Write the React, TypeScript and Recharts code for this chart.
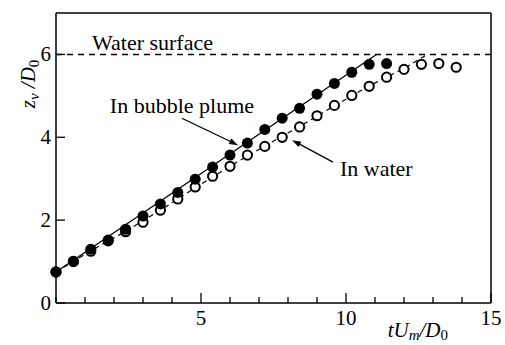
import { ComposedChart, XAxis, YAxis, Scatter, ReferenceLine } from "recharts"

const FONT = "Liberation Serif, Times New Roman, DejaVu Serif, serif"

// tUm/D0 of each sample (both series sampled on the same grid)
const plumeT = [0, 0.6, 1.2, 1.8, 2.4, 3.0, 3.6, 4.2, 4.8, 5.4, 6.0, 6.6, 7.2, 7.8, 8.4, 9.0, 9.6, 10.2, 10.8, 11.4]
const plumeZ = [0.75, 1.01, 1.3, 1.52, 1.78, 2.1, 2.39, 2.67, 2.99, 3.28, 3.57, 3.86, 4.19, 4.46, 4.7, 5.04, 5.3, 5.57, 5.76, 5.78]

const waterT = [0, 0.6, 1.2, 1.8, 2.4, 3.0, 3.6, 4.2, 4.8, 5.4, 6.0, 6.6, 7.2, 7.8, 8.4, 9.0, 9.6, 10.2, 10.8, 11.4, 12.0, 12.6, 13.2, 13.8]
const waterZ = [0.75, 1.0, 1.25, 1.5, 1.72, 1.95, 2.24, 2.51, 2.8, 3.06, 3.3, 3.57, 3.78, 4.0, 4.25, 4.52, 4.77, 5.01, 5.23, 5.45, 5.64, 5.76, 5.78, 5.69]

// fitted curves
const plumeFitT = [0, 11.05]
const plumeFitZ = [0.75, 6.0]
const waterFitT = [0, 1.2, 2.4, 3.6, 4.8, 6.0, 7.2, 8.4, 9.6, 10.8, 12.0, 12.8]
const waterFitZ = [0.75, 1.26, 1.73, 2.24, 2.78, 3.3, 3.79, 4.26, 4.76, 5.24, 5.66, 6.0]

const surfaceZ = 6
const xTicks = [0, 1, 2, 3, 4, 5, 6, 7, 8, 9, 10, 11, 12, 13, 14, 15]
const xLabelled = [5, 10, 15]
const yTicks = [0, 2, 4, 6]

// annotation arrows: [tail, head] in data units
const plumeArrow = [{ x: 4.34, y: 4.46 }, { x: 6.28, y: 3.81 }]
const waterArrow = [{ x: 9.55, y: 3.4 }, { x: 8.14, y: 3.93 }]

const zip = (xs: number[], ys: number[]) => xs.map((x, i) => ({ x, y: ys[i] }))

const plume = zip(plumeT, plumeZ)
const water = zip(waterT, waterZ)
const plumeFit = zip(plumeFitT, plumeFitZ)
const waterFit = zip(waterFitT, waterFitZ)

const txt = { fontFamily: FONT, fill: "#000" }

function XTick(props: any) {
  const { x, y, payload } = props
  const major = xLabelled.includes(payload.value)
  return (
    <g>
      <line x1={x} y1={y} x2={x} y2={y - (major ? 10 : 6)} stroke="#000" strokeWidth={1.3} />
      {major && (
        <text x={x} y={y + 22} textAnchor="middle" fontSize={21} style={txt}>
          {payload.value}
        </text>
      )}
    </g>
  )
}

function YTick(props: any) {
  const { x, y, payload } = props
  return (
    <g>
      <line x1={x} y1={y} x2={x + 9} y2={y} stroke="#000" strokeWidth={1.3} />
      <text x={x - 5} y={y + 7} textAnchor="end" fontSize={21} style={txt}>
        {payload.value}
      </text>
    </g>
  )
}

function arrowShape(text: string, dx: number, dy: number) {
  return (p: any) => {
    const { x1, y1, x2, y2 } = p
    const a = Math.atan2(y2 - y1, x2 - x1)
    const len = 9
    const w = 3
    const bx = x2 - len * Math.cos(a)
    const by = y2 - len * Math.sin(a)
    const pts = [
      `${x2},${y2}`,
      `${bx + w * Math.sin(a)},${by - w * Math.cos(a)}`,
      `${bx - w * Math.sin(a)},${by + w * Math.cos(a)}`,
    ].join(" ")
    return (
      <g>
        <line x1={x1} y1={y1} x2={bx} y2={by} stroke="#000" strokeWidth={1.3} />
        <polygon points={pts} fill="#000" />
        <text x={x1 + dx} y={y1 + dy} fontSize={22} style={txt}>
          {text}
        </text>
      </g>
    )
  }
}

const surfaceShape = (p: any) => (
  <g>
    <line x1={p.x1} y1={p.y1} x2={p.x2} y2={p.y2} stroke="#000" strokeWidth={1.5} strokeDasharray="6 5" />
    <text x={p.x1 + 36} y={p.y1 - 4} fontSize={22} style={txt}>
      Water surface
    </text>
  </g>
)

const xLabel = (p: any) => {
  const { x, width } = p.viewBox
  return (
    <text x={x + width - 43} y={337} textAnchor="end" fontSize={21} fontStyle="italic" style={txt}>
      <tspan>tU</tspan>
      <tspan fontSize={15} dy={3}>m</tspan>
      <tspan dy={-3}>/D</tspan>
      <tspan fontSize={15} dy={3} fontStyle="normal">0</tspan>
    </text>
  )
}

const yLabel = () => (
  <text transform="translate(35, 84) rotate(-90)" textAnchor="middle" fontSize={21} fontStyle="italic" style={txt}>
    <tspan>z</tspan>
    <tspan fontSize={15} dy={4}>v</tspan>
    <tspan dy={-4}> /D</tspan>
    <tspan fontSize={15} dy={4} fontStyle="normal">0</tspan>
  </text>
)

const filledDot = (p: any) => <circle cx={p.cx} cy={p.cy} r={5.5} fill="#000" />
const openDot = (p: any) => <circle cx={p.cx} cy={p.cy} r={4.6} fill="#fff" stroke="#000" strokeWidth={2} />
const noDot = () => <g />

export default function App() {
  return (
    <div style={{ position: "absolute", left: 0, top: 0, width: 505, height: 345, background: "#fff" }}>
      <ComposedChart width={505} height={345} margin={{ top: 13, right: 14, bottom: 0, left: 0 }}>
        <XAxis
          type="number"
          dataKey="x"
          domain={[0, 15]}
          ticks={xTicks}
          interval={0}
          height={42}
          tickSize={0}
          tickMargin={0}
          tickLine={false}
          axisLine={{ stroke: "#000", strokeWidth: 1.5 }}
          tick={<XTick />}
          label={{ content: xLabel }}
        />
        <YAxis
          type="number"
          dataKey="y"
          domain={[0, 7]}
          ticks={yTicks}
          interval={0}
          width={56}
          tickSize={0}
          tickMargin={0}
          tickLine={false}
          axisLine={{ stroke: "#000", strokeWidth: 1.5 }}
          tick={<YTick />}
          label={{ content: yLabel }}
        />
        <ReferenceLine y={7} stroke="#000" strokeWidth={1.5} />
        <ReferenceLine x={15} stroke="#000" strokeWidth={1.5} />
        <ReferenceLine y={surfaceZ} shape={surfaceShape} />
        <Scatter
          data={waterFit}
          dataKey="y"
          line={{ stroke: "#000", strokeWidth: 1.2, strokeDasharray: "5 4" }}
          shape={noDot}
          isAnimationActive={false}
        />
        <Scatter data={water} dataKey="y" shape={openDot} isAnimationActive={false} />
        <Scatter
          data={plumeFit}
          dataKey="y"
          line={{ stroke: "#000", strokeWidth: 1.3 }}
          shape={noDot}
          isAnimationActive={false}
        />
        <Scatter data={plume} dataKey="y" shape={filledDot} isAnimationActive={false} />
        <ReferenceLine segment={plumeArrow} shape={arrowShape("In bubble plume", -72, -5)} />
        <ReferenceLine segment={waterArrow} shape={arrowShape("In water", 7, 14)} />
      </ComposedChart>
    </div>
  )
}
